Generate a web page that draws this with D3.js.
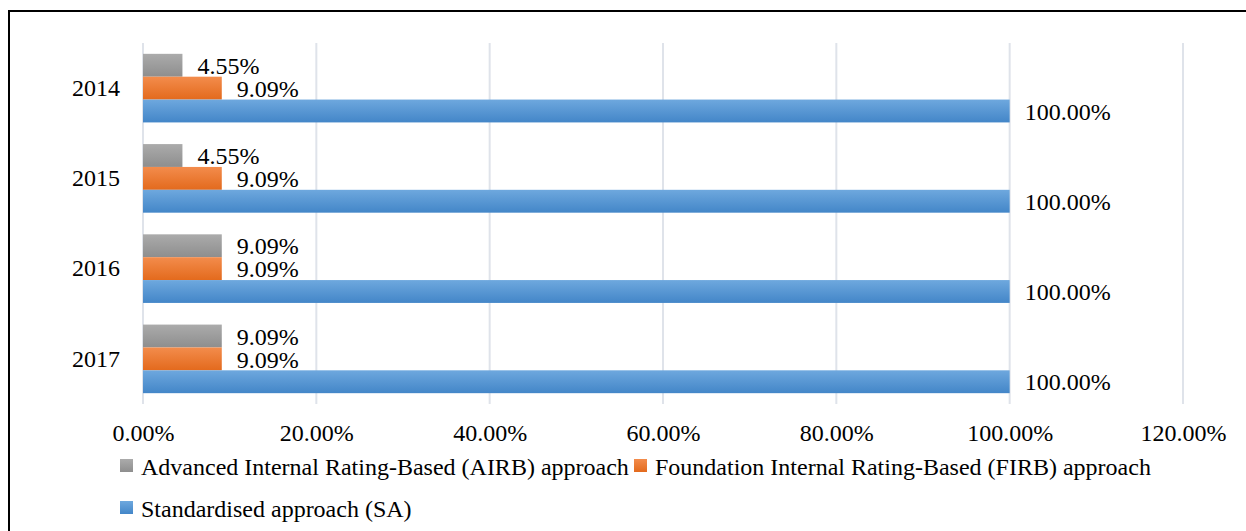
<!DOCTYPE html>
<html lang="en">
<head>
<meta charset="UTF-8">
<title>IRB approaches</title>
<style>
	body { margin: 0; background: #fff; }
	svg text { font-family: "Liberation Serif", "Times New Roman", Times, serif; fill: #000; }
</style>
</head>
<body>
<svg id="chart" width="1246" height="531"></svg>
<script src="https://cdn.jsdelivr.net/npm/d3@7"></script>
<script>
	// data
	let years = ["2014", "2015", "2016", "2017"]
	let airb = [4.55, 4.55, 9.09, 9.09]
	let firb = [9.09, 9.09, 9.09, 9.09]
	let sa = [100, 100, 100, 100]
	let seriesNames = [
		"Advanced Internal Rating-Based (AIRB) approach",
		"Foundation Internal Rating-Based (FIRB) approach",
		"Standardised approach (SA)"
	]
	let xTicks = [0, 20, 40, 60, 80, 100, 120]

	let fs = 24
	let svg = d3.select("#chart")

	// frame
	svg.append("rect")
		.attr("x", 9).attr("y", 11)
		.attr("width", 1260).attr("height", 540)
		.attr("fill", "none").attr("stroke", "#000").attr("stroke-width", 2)

	// gradients like excel
	let defs = svg.append("defs")
	let grads = [
		{ id: "gGray", top: "#ababab", bot: "#8e8e8e" },
		{ id: "gOrange", top: "#f38c4c", bot: "#e36a1d" },
		{ id: "gBlue", top: "#6ea8de", bot: "#4386c8" }
	]
	grads.forEach(g => {
		let lg = defs.append("linearGradient").attr("id", g.id)
			.attr("x1", 0).attr("y1", 0).attr("x2", 0).attr("y2", 1)
		lg.append("stop").attr("offset", "0%").attr("stop-color", g.top)
		lg.append("stop").attr("offset", "100%").attr("stop-color", g.bot)
	})

	let pLeft = 143, pRight = 1183, pTop = 43, pBottom = 404

	let x = d3.scaleLinear().domain([0, 120]).range([pLeft, pRight])
	let y = d3.scaleBand().domain(years).range([pTop, pBottom]).paddingInner(0.24).paddingOuter(0.12)
	let series = [
		{ key: "airb", vals: airb, fill: "url(#gGray)" },
		{ key: "firb", vals: firb, fill: "url(#gOrange)" },
		{ key: "sa", vals: sa, fill: "url(#gBlue)" }
	]
	let ySub = d3.scaleBand().domain(series.map(s => s.key)).range([0, y.bandwidth()])

	// gridlines
	svg.append("g").selectAll("line")
		.data(xTicks)
		.enter().append("line")
		.attr("x1", d => x(d)).attr("x2", d => x(d))
		.attr("y1", pTop).attr("y2", pBottom)
		.attr("stroke", "#dfe3ea").attr("stroke-width", 2)

	// bars
	series.forEach(s => {
		let g = svg.append("g")
		g.selectAll("rect")
			.data(years)
			.enter().append("rect")
			.attr("x", x(0))
			.attr("y", (d, i) => y(d) + ySub(s.key))
			.attr("width", (d, i) => x(s.vals[i]) - x(0))
			.attr("height", ySub.bandwidth())
			.attr("fill", s.fill)
		g.selectAll("text")
			.data(years)
			.enter().append("text")
			.attr("x", (d, i) => x(s.vals[i]) + 15)
			.attr("y", (d, i) => y(d) + ySub(s.key) + ySub.bandwidth() / 2)
			.attr("dy", "0.36em")
			.attr("font-size", fs)
			.text((d, i) => s.vals[i].toFixed(2) + "%")
	})

	// y axis labels
	let yAxis = d3.axisLeft(y).tickSize(0).tickPadding(23)
	let gy = svg.append("g").attr("transform", `translate(${pLeft},0)`).call(yAxis)
	gy.attr("font-family", null)
	gy.select(".domain").remove()
	gy.selectAll("text").attr("font-size", fs)

	// x axis labels
	let xAxis = d3.axisBottom(x).tickValues(xTicks).tickSize(0).tickPadding(20)
		.tickFormat(d => d.toFixed(2) + "%")
	let gx = svg.append("g").attr("transform", `translate(0,${pBottom})`).call(xAxis)
	gx.attr("font-family", null)
	gx.select(".domain").remove()
	gx.selectAll("text").attr("font-size", fs)

	// legend
	let legendPos = [[120, 466], [634, 466], [120, 508]]
	let legColors = ["url(#gGray)", "url(#gOrange)", "url(#gBlue)"]
	let lg = svg.append("g")
	seriesNames.forEach((n, i) => {
		let p = legendPos[i]
		lg.append("rect").attr("x", p[0]).attr("y", p[1] - 7)
			.attr("width", 13).attr("height", 13).attr("fill", legColors[i])
		lg.append("text").attr("x", p[0] + 21).attr("y", p[1])
			.attr("dy", "0.36em").attr("font-size", fs).text(n)
	})
</script>
</body>
</html>
